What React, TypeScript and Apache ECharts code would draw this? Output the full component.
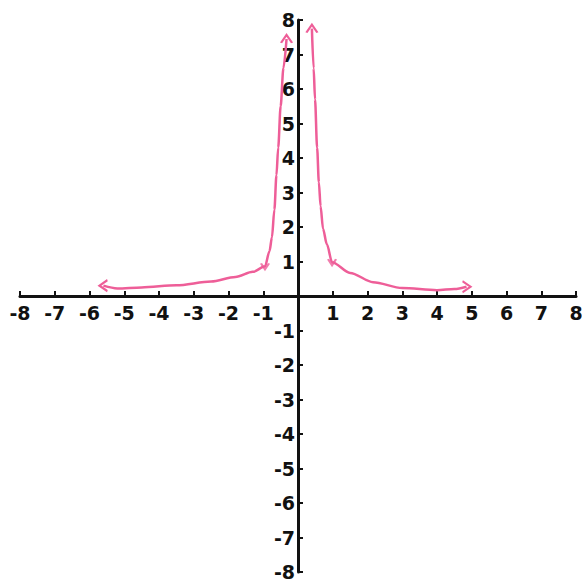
import React, { useEffect, useRef } from 'react';
import * as echarts from 'echarts';

// Axis range and tick labels
const axisMin = -8;
const axisMax = 8;
const tickStep = 1;

// Hand-sketched curve, left branch (x < 0) and right branch (x > 0)
const leftBranch: [number, number][] = [
  [-5.6, 0.3],
  [-5.2, 0.22],
  [-4.5, 0.25],
  [-3.5, 0.31],
  [-2.5, 0.42],
  [-1.8, 0.55],
  [-1.3, 0.7],
  [-0.95, 0.86],
  [-0.82, 1.3],
  [-0.75, 1.7],
  [-0.68, 2.5],
  [-0.62, 3.5],
  [-0.57, 4.3],
  [-0.5, 5.5],
  [-0.42, 6.6],
  [-0.33, 7.45],
];

const rightBranch: [number, number][] = [
  [0.4, 7.75],
  [0.45, 6.6],
  [0.49, 5.7],
  [0.55, 4.3],
  [0.6, 3.3],
  [0.65, 2.6],
  [0.72, 1.95],
  [0.83, 1.5],
  [0.98, 0.98],
  [1.5, 0.67],
  [2.16, 0.4],
  [3.0, 0.23],
  [4.0, 0.17],
  [4.5, 0.2],
  [4.85, 0.27],
];

// Plotted points marked on the curve
const markedPoints: [number, number][] = [
  [-0.95, 0.86],
  [0.98, 0.98],
];

const PINK = '#ee5e98';
const INK = '#111111';
const chevron = 'path://M0,10L5,0L10,10';

const W = 582;
const H = 584;
const GRID = { left: 20, right: 6, top: 20, bottom: 12 };

function arrowItem(p: [number, number], rotate: number) {
  return {
    value: p,
    symbol: chevron,
    symbolSize: [11, 8],
    symbolRotate: rotate,
    itemStyle: { color: 'rgba(0,0,0,0)', borderColor: PINK, borderWidth: 2 },
  };
}

function branchData(pts: [number, number][], startRot: number | null, endRot: number | null) {
  return pts.map((p, i) => {
    if (i === 0 && startRot !== null) return arrowItem(p, startRot);
    if (i === pts.length - 1 && endRot !== null) return arrowItem(p, endRot);
    return { value: p, symbol: 'none' };
  });
}

export default function App() {
  const ref = useRef<HTMLDivElement>(null);

  useEffect(() => {
    if (!ref.current) return;
    const chart = echarts.init(ref.current, null, { renderer: 'svg' });
    const labelStyle = {
      color: INK,
      fontFamily: 'DejaVu Sans',
      fontWeight: 'bold' as const,
      fontSize: 19,
    };
    const fmt = (v: number) => (v === 0 ? '' : String(v));
    // Put both axes through the origin by shifting them into the plot area
    const plotW = W - GRID.left - GRID.right;
    const plotH = H - GRID.top - GRID.bottom;
    const xOffset = -plotH * ((0 - axisMin) / (axisMax - axisMin));
    const yOffset = -plotW * ((0 - axisMin) / (axisMax - axisMin));
    chart.setOption({
      animation: false,
      backgroundColor: '#ffffff',
      grid: { ...GRID, containLabel: false, outerBoundsMode: 'none' },
      xAxis: {
        type: 'value',
        position: 'bottom',
        offset: xOffset,
        min: axisMin,
        max: axisMax,
        interval: tickStep,
        axisLine: { onZero: false, lineStyle: { color: INK, width: 3 } },
        axisTick: { show: true, inside: true, length: 5, lineStyle: { color: INK, width: 2 } },
        axisLabel: { ...labelStyle, margin: 7, formatter: fmt, showMinLabel: true, showMaxLabel: true, hideOverlap: false },
        splitLine: { show: false },
      },
      yAxis: {
        type: 'value',
        position: 'left',
        offset: yOffset,
        min: axisMin,
        max: axisMax,
        interval: tickStep,
        axisLine: { onZero: false, lineStyle: { color: INK, width: 3 } },
        axisTick: { show: true, inside: true, length: 5, lineStyle: { color: INK, width: 2 } },
        axisLabel: { ...labelStyle, margin: 3, formatter: fmt, showMinLabel: true, showMaxLabel: true, hideOverlap: false },
        splitLine: { show: false },
      },
      series: [
        {
          type: 'line',
          data: branchData(leftBranch, 90, 0),
          smooth: 0.3,
          smoothMonotone: 'x',
          symbol: 'none',
          showSymbol: true,
          showAllSymbol: true,
          lineStyle: { color: PINK, width: 2.5 },
          itemStyle: { color: PINK },
          clip: false,
        },
        {
          type: 'line',
          data: branchData(rightBranch, 0, -90),
          smooth: 0.3,
          smoothMonotone: 'x',
          symbol: 'none',
          showSymbol: true,
          showAllSymbol: true,
          lineStyle: { color: PINK, width: 2.5 },
          itemStyle: { color: PINK },
          clip: false,
        },
        {
          type: 'scatter',
          data: markedPoints,
          symbol: 'path://M0,0L5,10L10,0',
          symbolSize: [8, 6],
          itemStyle: { color: 'rgba(0,0,0,0)', borderColor: PINK, borderWidth: 2 },
          z: 3,
        },
      ],
    });
    return () => chart.dispose();
  }, []);

  return <div ref={ref} style={{ width: W, height: H, position: 'absolute', left: 0, top: 0 }} />;
}
